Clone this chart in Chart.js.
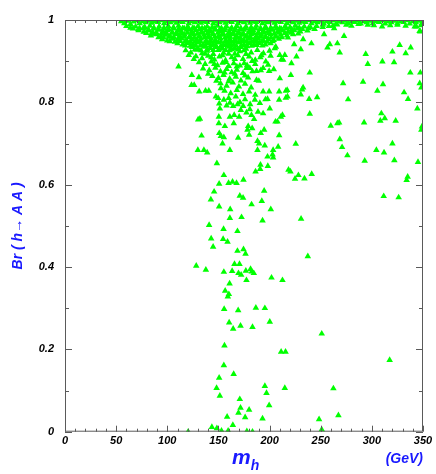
<!DOCTYPE html>
<html>
<head>
<meta charset="utf-8">
<script src="https://cdn.jsdelivr.net/npm/chart.js@4"></script>
<style>
  html, body { margin: 0; padding: 0; background: #fff; }
  #wrap { width: 436px; height: 474px; }
</style>
</head>
<body>
<div id="wrap"><canvas id="brChart"></canvas></div>
<script>
// points as [m_h (GeV), Br(h -> A A)]

// thin saturated band right under Br = 1
const topBand = [
  [55,0.997],[58,0.992],[61,0.998],[64,0.99],[67,0.996],[70,0.999],[73,0.992],[76,0.997],[79,0.994],[82,0.998],
  [85,0.993],[88,0.997],[91,0.995],[94,0.999],[97,0.992],[100,0.997],[103,0.994],[106,0.998],[109,0.993],[112,0.997],
  [115,0.995],[118,0.999],[121,0.992],[124,0.997],[127,0.994],[130,0.998],[133,0.993],[136,0.997],[139,0.995],[142,0.999],
  [145,0.992],[148,0.997],[151,0.994],[154,0.998],[157,0.993],[160,0.997],[163,0.995],[166,0.999],[169,0.992],[172,0.997],
  [175,0.994],[178,0.998],[181,0.993],[184,0.997],[187,0.995],[190,0.999],[193,0.992],[196,0.997],[199,0.994],[202,0.998],
  [205,0.993],[208,0.997],[211,0.995],[214,0.999],[217,0.992],[220,0.997],[223,0.994],[226,0.998],[229,0.993],[232,0.997],
  [235,0.995],[238,0.999],[241,0.992],[244,0.997],[247,0.994],[250,0.998],[253,0.991],[256,0.997],[259,0.995],[262,0.999],
  [265,0.991],[268,0.997],[271,0.994],[274,0.998],[277,0.992],[280,0.997],[283,0.995],[286,0.999],[289,0.991],[292,0.997],
  [295,0.994],[298,0.998],[301,0.992],[304,0.997],[307,0.995],[310,0.999],[313,0.991],[316,0.997],[319,0.994],[322,0.998],
  [325,0.992],[328,0.997],[331,0.995],[334,0.999],[337,0.991],[340,0.997],[343,0.994],[346,0.998],[349,0.992],
  [275,0.988],[341.9,0.984],[346.7,0.973],[296,0.988],[318,0.987],[262,0.986],
  [252,0.988],[258,0.985],[266,0.989],[280,0.986],[287,0.99],[302,0.987],[310,0.984],[325,0.988],[333,0.986],[348,0.987]
];

// solid core of the distribution
const denseCore = [
  [60,0.985],[64,0.981],[69,0.984],[73,0.98],[78,0.983],[83,0.986],[87,0.981],[92,0.984],[97,0.98],[101,0.985],
  [106,0.982],[111,0.986],[115,0.98],[120,0.984],[125,0.981],[130,0.985],[134,0.98],[139,0.984],[144,0.982],[149,0.986],
  [153,0.98],[158,0.984],[163,0.981],[168,0.985],[172,0.98],[177,0.984],[182,0.982],[187,0.986],[191,0.98],[196,0.984],
  [201,0.981],[206,0.985],[210,0.98],[215,0.984],[220,0.982],[225,0.986],[229,0.981],[234,0.984],[240,0.982],[246,0.985],[252,0.983],
  [72,0.975],[77,0.971],[82,0.974],[86,0.97],[91,0.976],[96,0.972],[100,0.975],[105,0.97],[110,0.974],[114,0.971],
  [119,0.976],[124,0.972],[128,0.975],[133,0.97],[138,0.974],[142,0.971],[147,0.976],[152,0.972],[156,0.975],[161,0.97],
  [166,0.974],[170,0.971],[175,0.976],[180,0.972],[184,0.975],[189,0.97],[194,0.974],[198,0.971],[203,0.976],[208,0.972],
  [213,0.974],[218,0.971],[224,0.975],[230,0.972],[237,0.974],
  [84,0.962],[89,0.965],[94,0.961],[98,0.964],[103,0.96],[108,0.965],[112,0.961],[117,0.964],[122,0.96],[126,0.965],
  [131,0.961],[136,0.964],[140,0.96],[145,0.965],[150,0.961],[154,0.964],[159,0.96],[164,0.965],[168,0.961],[173,0.964],
  [178,0.96],[182,0.965],[187,0.961],[192,0.964],[196,0.96],[201,0.965],[206,0.961],[211,0.964],[217,0.962],[223,0.965],
  [95,0.953],[100,0.95],[105,0.954],[110,0.951],[114,0.955],[119,0.95],[124,0.953],[129,0.951],[133,0.955],[138,0.95],
  [143,0.954],[147,0.951],[152,0.955],[157,0.95],[161,0.953],[166,0.951],[171,0.955],[175,0.95],[180,0.954],[185,0.951],
  [189,0.955],[194,0.95],[199,0.953],[204,0.951],[209,0.954],
  [110,0.943],[115,0.94],[120,0.944],[125,0.941],[130,0.945],[135,0.94],[140,0.943],[145,0.941],[150,0.945],[155,0.94],
  [160,0.943],[165,0.941],[170,0.945],[175,0.94],[180,0.943],[185,0.941],[190,0.944],[196,0.94],[201,0.943],
  [124,0.934],[130,0.931],[136,0.935],[142,0.932],[148,0.934],[154,0.931],[160,0.935],[166,0.932],[172,0.934],[178,0.936]
];

// in-between rows that close the gaps of the core
const denseFill = [
  [66.5,0.979],[71.5,0.977],[76.5,0.98],[81.5,0.977],[86.5,0.979],[91.5,0.978],[96.5,0.98],[101.5,0.977],[106.5,0.979],[111.5,0.978],
  [116.5,0.98],[121.5,0.977],[126.5,0.979],[131.5,0.978],[136.5,0.98],[141.5,0.977],[146.5,0.979],[151.5,0.978],[156.5,0.98],[161.5,0.977],
  [166.5,0.979],[171.5,0.978],[176.5,0.98],[181.5,0.977],[186.5,0.979],[191.5,0.978],[196.5,0.98],[201.5,0.977],[206.5,0.979],[211.5,0.978],
  [216.5,0.98],[221.5,0.977],[227,0.979],[232,0.978],[238,0.98],[244,0.978],
  [79.5,0.968],[84.5,0.967],[89.5,0.969],[94.5,0.968],[99.5,0.967],[104.5,0.969],[109.5,0.968],[114.5,0.967],[119.5,0.969],[124.5,0.968],
  [129.5,0.967],[134.5,0.969],[139.5,0.968],[144.5,0.967],[149.5,0.969],[154.5,0.968],[159.5,0.967],[164.5,0.969],[169.5,0.968],[174.5,0.967],
  [179.5,0.969],[184.5,0.968],[189.5,0.967],[194.5,0.969],[199.5,0.968],[204.5,0.967],[209.5,0.969],[215,0.968],[221,0.969],[228,0.967],
  [91.5,0.958],[96.5,0.957],[101.5,0.959],[106.5,0.958],[111.5,0.957],[116.5,0.959],[121.5,0.958],[126.5,0.957],[131.5,0.959],[136.5,0.958],
  [141.5,0.957],[146.5,0.959],[151.5,0.958],[156.5,0.957],[161.5,0.959],[166.5,0.958],[171.5,0.957],[176.5,0.959],[181.5,0.958],[186.5,0.957],
  [191.5,0.959],[196.5,0.958],[201.5,0.957],[206.5,0.959],[212,0.958],[218,0.957],
  [102.5,0.948],[107.5,0.947],[112.5,0.949],[117.5,0.948],[122.5,0.947],[127.5,0.949],[132.5,0.948],[137.5,0.947],[142.5,0.949],[147.5,0.948],
  [152.5,0.947],[157.5,0.949],[162.5,0.948],[167.5,0.947],[172.5,0.949],[177.5,0.948],[182.5,0.947],[187.5,0.949],[192.5,0.948],[197.5,0.947],[203,0.948],
  [117.5,0.938],[122.5,0.937],[127.5,0.939],[132.5,0.938],[137.5,0.937],[142.5,0.939],[147.5,0.938],[152.5,0.937],[157.5,0.939],[162.5,0.938],
  [167.5,0.937],[172.5,0.939],[177.5,0.938],[182.5,0.937],[187.5,0.939],[193,0.938],
  [127,0.928],[133,0.926],[139,0.929],[145,0.927],[151,0.93],[157,0.927],[163,0.929],[169,0.928],[175,0.926]
];

// scattered but still crowded region under the core
const midScatter = [
  [118,0.926],[123,0.921],[129,0.928],[134,0.919],[139,0.925],[145,0.917],[150,0.927],[155,0.92],[161,0.926],[166,0.918],
  [171,0.924],[177,0.93],[182,0.921],[188,0.927],[194,0.919],[200,0.925],
  [128,0.912],[134,0.907],[140,0.913],[146,0.904],[151,0.911],[157,0.902],[163,0.909],[169,0.914],[174,0.905],[180,0.911],
  [186,0.903],[191,0.909],[201,0.913],
  [131,0.897],[137,0.893],[143,0.899],[149,0.89],[154,0.896],[160,0.888],[165,0.895],[171,0.889],[186,0.893],
  [135,0.882],[141,0.878],[147,0.884],[152,0.875],[158,0.881],[163,0.873],[168,0.879],[174,0.871],
  [144,0.864],[150,0.859],[155,0.866],[161,0.857],[167,0.862],[172,0.853],[179,0.86],
  [152,0.846],[158,0.84],[164,0.848],[170,0.838],[176,0.845],[182,0.836],
  [156,0.828],[162,0.822],[168,0.83],[174,0.82],[180,0.826],[186,0.818],
  [160,0.81],[167,0.814],[176,0.807],[181,0.795],[158,0.792],[171,0.8],
  [121,0.915],[126,0.905],[137,0.918],[143,0.909],[154,0.914],[160,0.918],[166,0.905],[177,0.917],[183,0.9],[192,0.914],
  [146,0.893],[157,0.898],[168,0.887],[178,0.89],[140,0.869],[156,0.872],[166,0.869],[176,0.865],[148,0.852],[160,0.851]
];

// isolated points between 0.69 and 0.98
const upperSparse = [
  [111,0.887],[123.7,0.842],[126.3,0.842],[131.2,0.826],[137.4,0.828],[140.6,0.828],[130.9,0.861],[124,0.866],[131.9,0.76],[130.2,0.758],
  [133.5,0.719],[150.4,0.765],[150.4,0.749],[151.4,0.785],[150.8,0.797],[147.5,0.814],[149.8,0.81],[152.4,0.834],[155.3,0.806],[150.8,0.725],
  [152.4,0.718],[155.3,0.715],[154,0.7],[161.2,0.765],[165.4,0.769],[170.3,0.765],[156.3,0.742],[165,0.749],[169.3,0.714],[161.2,0.799],
  [164.4,0.791],[168.7,0.795],[171.9,0.781],[174.2,0.791],[179.1,0.742],[178.4,0.733],[183,0.737],[180,0.721],[177.4,0.775],[182.3,0.769],
  [184.9,0.759],[180.7,0.783],[194.7,0.733],[191.4,0.725],[188.2,0.706],[189.8,0.7],[195.3,0.695],[208.4,0.692],[209.4,0.72],[205.8,0.753],
  [207.7,0.753],[211,0.765],[200.2,0.785],[193.7,0.773],[188.7,0.777],[196,0.807],[198,0.808],[185.6,0.806],[190.5,0.798],[199.6,0.826],
  [193.7,0.826],[209.4,0.806],[212.6,0.769],[225.6,0.699],[239.3,0.772],[215.9,0.811],[217.5,0.814],[209.4,0.826],[215.9,0.828],[217.2,0.83],
  [230.5,0.819],[231.8,0.831],[232.8,0.836],[238.7,0.808],[246.5,0.812],[210,0.858],[220.8,0.866],[239.3,0.872],[259.8,0.743],[266.3,0.749],
  [268,0.751],[268.6,0.71],[270.9,0.691],[292.4,0.751],[309.3,0.773],[308.3,0.755],[312.6,0.761],[323.3,0.755],[320.1,0.7],[344.5,0.785],
  [349,0.741],[348.4,0.733],[276.8,0.807],[271.9,0.846],[291.4,0.85],[305.4,0.828],[310.9,0.844],[331.5,0.824],[335.4,0.808],[337.6,0.872],
  [347.4,0.872],[346.8,0.846],[348.4,0.836],[294,0.917],[296,0.893],[310.3,0.899],[321.7,0.897],[320.1,0.923],[327.2,0.939],[333.1,0.919],
  [338,0.933],[347.4,0.972],[343.5,0.984],[240.9,0.943],[230.5,0.929],[232.8,0.953],[224,0.941],[253.3,0.965],[263.1,0.98],[258.9,0.941],
  [266.3,0.943],[268.6,0.921],[272.8,0.961],[256.6,0.933],[210,0.915],[214.9,0.915],[213.3,0.903],[221.4,0.895],[226.3,0.911],[211.6,0.904],
  [206.1,0.935],[205.1,0.931],[196.3,0.899],[198.6,0.891],[204.1,0.88],[193.7,0.883],[199.6,0.876],[191.4,0.878],[187.2,0.876],[175.2,0.895],
  [177.4,0.883],[180.7,0.883],[183.3,0.875],[187.2,0.854],[189.5,0.852]
];

// 0.3 .. 0.69
const midRange = [
  [129.9,0.684],[135.8,0.684],[139,0.678],[161.2,0.684],[188.2,0.684],[203.5,0.684],[198,0.668],[202.9,0.673],[203.5,0.666],[276.1,0.671],
  [293,0.658],[304.4,0.684],[311.9,0.678],[322,0.659],[345.1,0.655],[148.5,0.652],[191.1,0.648],[198.3,0.645],[186.3,0.632],[190.8,0.638],
  [218.5,0.636],[220.4,0.632],[228.2,0.623],[224.9,0.614],[234.1,0.615],[241.2,0.626],[335,0.619],[334,0.611],[155.3,0.623],[150.7,0.602],
  [159.9,0.604],[163.8,0.607],[167.7,0.604],[174.5,0.612],[145.8,0.583],[194.7,0.585],[142.6,0.564],[170.9,0.573],[174.1,0.568],[192.4,0.56],
  [311.6,0.572],[326.2,0.569],[150.7,0.547],[182.4,0.552],[161.5,0.54],[201.2,0.54],[161.2,0.519],[172.6,0.521],[193.1,0.513],[230.8,0.517],
  [140.9,0.502],[155,0.492],[168.6,0.487],[142.9,0.469],[154.6,0.468],[158.9,0.461],[144.8,0.449],[168.6,0.439],[174.5,0.443],[176.5,0.432],
  [237.4,0.426],[165.7,0.407],[170.6,0.407],[128.3,0.403],[137.7,0.393],[155.3,0.388],[163.4,0.39],[169.6,0.385],[172.2,0.381],[176.8,0.391],
  [181.4,0.395],[182.6,0.389],[184.6,0.385],[177.4,0.368],[201.9,0.374],[212.6,0.368],[160.9,0.36],[156.6,0.342],[160.2,0.334],[159.2,0.328]
];

// tail down to Br = 0
const lowTail = [
  [155.6,0.298],[169.3,0.295],[186.6,0.301],[195.4,0.3],[160.5,0.265],[164.4,0.25],[171.6,0.257],[183.3,0.254],[200.2,0.267],[251,0.238],
  [155.9,0.209],[211.3,0.194],[215.6,0.194],[317.4,0.174],[155.3,0.161],[164.9,0.14],[150.7,0.131],[148.2,0.106],[151.4,0.087],[195.4,0.111],
  [197,0.094],[214.9,0.106],[262.4,0.105],[170.9,0.079],[171.6,0.058],[169.6,0.046],[180,0.053],[199.6,0.064],[158.5,0.036],[176.1,0.035],
  [193.1,0.032],[248.4,0.03],[267.3,0.04],[164.1,0.016],[143.6,0.011],[148.5,0.008],[153,0.002],[120.4,0],[159.5,0.002],[177.8,0.001],
  [183.3,0],[251,0.005]
];

const xTicks = [0, 50, 100, 150, 200, 250, 300, 350];
const yTicks = [0, 0.2, 0.4, 0.6, 0.8, 1];

const blue = '#1a1aff';
const tickFont = { family: "'Liberation Sans', Arial, sans-serif", size: 11, style: 'italic', weight: 'bold' };

const allPoints = [].concat(topBand, denseCore, denseFill, midScatter, upperSparse, midRange, lowTail)
  .map(p => ({ x: p[0], y: p[1] }));

// frame with inward ticks on all four sides
const frame = {
  id: 'frame',
  afterDatasetsDraw(chart) {
    const { ctx, chartArea: a, scales } = chart;
    const xs = scales.x, ys = scales.y;
    ctx.save();
    ctx.strokeStyle = '#5a5a5a';
    ctx.lineWidth = 1;
    ctx.strokeRect(a.left + 0.5, a.top + 0.5, a.right - a.left - 1, a.bottom - a.top - 1);
    ctx.beginPath();
    for (let i = 0; i <= 35; i++) {
      const px = Math.round(xs.getPixelForValue(i * 10)) + 0.5;
      const len = i % 5 === 0 ? 6 : 3;
      ctx.moveTo(px, a.bottom); ctx.lineTo(px, a.bottom - len);
      ctx.moveTo(px, a.top); ctx.lineTo(px, a.top + len);
    }
    for (let i = 0; i <= 10; i++) {
      const py = Math.round(ys.getPixelForValue(i / 10)) + 0.5;
      const len = i % 2 === 0 ? 7 : 4;
      ctx.moveTo(a.left, py); ctx.lineTo(a.left + len, py);
      ctx.moveTo(a.right, py); ctx.lineTo(a.right - len, py);
    }
    ctx.stroke();

    // x axis title: m_h and unit
    ctx.fillStyle = blue;
    ctx.textBaseline = 'alphabetic';
    ctx.textAlign = 'left';
    ctx.font = "italic bold 21px 'Liberation Sans', Arial, sans-serif";
    const mx = (a.left + a.right) / 2 - 12;
    ctx.fillText('m', mx, 464);
    const mw = ctx.measureText('m').width;
    ctx.font = "italic bold 14px 'Liberation Sans', Arial, sans-serif";
    ctx.fillText('h', mx + mw, 470);
    ctx.textAlign = 'right';
    ctx.fillText('(GeV)', a.right, 463);
    ctx.restore();
  }
};

new Chart(document.getElementById('brChart'), {
  type: 'scatter',
  data: {
    datasets: [{
      data: allPoints,
      pointStyle: 'triangle',
      pointRadius: 3.8,
      pointBorderWidth: 0,
      backgroundColor: '#00ff00',
      borderColor: '#00ff00',
      clip: 0
    }]
  },
  options: {
    responsive: true,
    maintainAspectRatio: false,
    animation: false,
    layout: { padding: { top: 20, right: 13, left: 0, bottom: 0 } },
    plugins: { legend: { display: false }, tooltip: { enabled: false } },
    scales: {
      x: {
        type: 'linear',
        min: 0, max: 350,
        afterFit(scale) { scale.height = 42.3; },
        afterBuildTicks(scale) { scale.ticks = xTicks.map(v => ({ value: v })); },
        grid: { display: false, drawTicks: false },
        border: { display: false },
        ticks: { color: '#000', font: tickFont, padding: 3, maxRotation: 0, autoSkip: false }
      },
      y: {
        type: 'linear',
        min: 0, max: 1,
        afterFit(scale) { scale.width = 65; },
        afterBuildTicks(scale) { scale.ticks = yTicks.map(v => ({ value: v })); },
        grid: { display: false, drawTicks: false },
        border: { display: false },
        ticks: { color: '#000', font: tickFont, padding: 11, callback: v => String(v) },
        title: {
          display: true,
          text: 'Br ( h\u2192 A A )',
          color: blue,
          font: { family: "'Liberation Sans', Arial, sans-serif", size: 14, style: 'italic', weight: 'bold' },
          padding: { top: 10, bottom: 0 }
        }
      }
    }
  },
  plugins: [frame]
});
</script>
</body>
</html>
